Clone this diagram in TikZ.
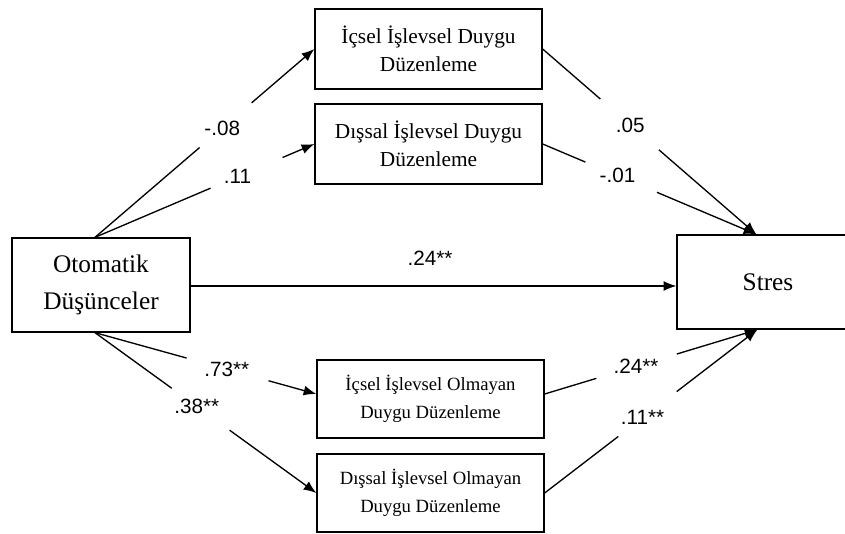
\documentclass[tikz,border=0pt]{standalone}
\usepackage{fontspec}
\setmainfont{Liberation Serif}
\newfontfamily\lblfont{Liberation Sans}
\usetikzlibrary{calc,arrows.meta}

% Connector broken around its coefficient:
% #1 from, #2 to, #3 gap start, #4 gap end, #5 label position, #6 label name, #7 text
\newcommand\gapconn[7]{%
  \draw[conn] (#1) -- ($(#1)!#3!(#2)$);
  \draw[conn,arr] ($(#1)!#4!(#2)$) -- (#2);
  \node[coef] (#6) at ($(#1)!#5!(#2)$) {#7};
}

\begin{document}
\begin{tikzpicture}[x=0.75pt,y=-0.75pt,
  box/.style={draw, line width=1pt, inner sep=0pt, align=center},
  midbox/.style={box, minimum width=170.25pt, minimum height=60pt,
                 font=\fontsize{16}{21}\selectfont},
  lowbox/.style={box, minimum width=170.25pt, minimum height=58.5pt,
                 font=\fontsize{14}{21}\selectfont},
  endbox/.style={box, minimum height=70.5pt,
                 font=\fontsize{19}{27.5}\selectfont},
  conn/.style={line width=1pt},
  arr/.style={-{Latex[length=9.5pt,width=7.5pt]}},
  coef/.style={font=\lblfont\fontsize{15.5}{18}\selectfont, inner sep=0pt}]

\useasboundingbox (0,0) rectangle (845,534);

% variables
\node[endbox, minimum width=133.5pt] (o) at (101,285) {Otomatik\\Düşünceler};
\node[endbox, minimum width=136.5pt] (s) at (768,282) {Stres};
\node[midbox] (b1) at (428.5,49)  {İçsel İşlevsel Duygu\\Düzenleme};
\node[midbox] (b2) at (428.5,144) {Dışsal İşlevsel Duygu\\Düzenleme};
\node[lowbox] (b3) at (430.5,399) {İçsel İşlevsel Olmayan\\Duygu Düzenleme};
\node[lowbox] (b4) at (430.5,493) {Dışsal İşlevsel Olmayan\\Duygu Düzenleme};

% attachment points
\coordinate (oT) at ($(o.north)+(-6,0)$);
\coordinate (oB) at ($(o.south)+(-6,0)$);
\coordinate (oR) at ($(o.east)+(0,1)$);
\coordinate (sL) at (oR -| s.west);
\coordinate (sT) at ($(s.north west)+(80,0)$);
\coordinate (sB) at ($(s.south west)+(81,0)$);
\coordinate (b3in) at ($(b3.west)+(0,-5)$);
\coordinate (b3out) at ($(b3.east)+(0,-5)$);

% predictor to mediators
\gapconn{oT}{b1.west}{0.477}{0.714}{0.58}{l1}{-.08}
\gapconn{oT}{b2.west}{0.527}{0.855}{0.65}{l2}{.11}
\gapconn{oB}{b3in}{0.414}{0.784}{0.595}{l3}{.73**}
\gapconn{oB}{b4.west}{0.347}{0.608}{0.46}{l4}{.38**}

% mediators to outcome
\gapconn{b1.east}{sT}{0.27}{0.544}{0.41}{l5}{.05}
\gapconn{b2.east}{sT}{0.2}{0.535}{0.35}{l6}{-.01}
\gapconn{b3out}{sB}{0.243}{0.621}{0.43}{l7}{.24**}
\gapconn{b4.east}{sB}{0.346}{0.621}{0.46}{l8}{.11**}

% direct path
\draw[conn,arr] (oR) -- (sL);
\node[coef] (l9) at (430,258) {.24**};

\end{tikzpicture}
\end{document}
